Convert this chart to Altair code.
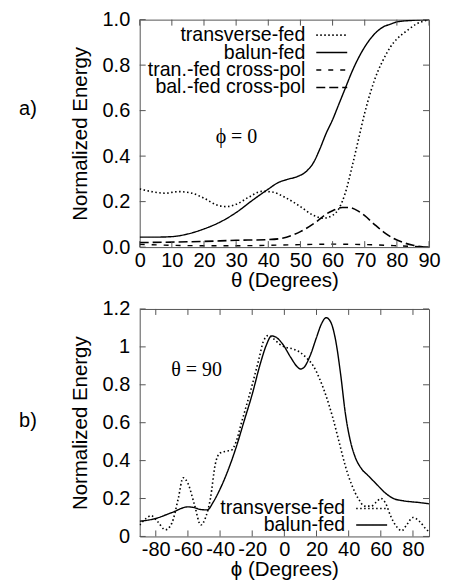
import altair as alt
import pandas as pd

# ---------------- data ----------------
# Panel a) phi = 0, x = theta (degrees)
a_tf_theta = [0, 4, 8, 12, 16, 20, 24, 27, 30, 34, 38, 41, 45, 50, 54, 57, 60, 62, 64, 66, 68, 70, 72, 74, 76, 78, 80, 83, 86, 90]
a_tf_val = [0.256, 0.243, 0.237, 0.244, 0.238, 0.215, 0.185, 0.178, 0.188, 0.22, 0.245, 0.243, 0.22, 0.178, 0.14, 0.127, 0.14, 0.17, 0.24, 0.35, 0.47, 0.59, 0.69, 0.77, 0.83, 0.88, 0.915, 0.95, 0.98, 1.0]

a_bf_theta = [0, 5, 10, 15, 20, 25, 30, 35, 40, 43, 46, 49, 52, 54, 56, 58, 60, 62, 64, 66, 68, 70, 72, 74, 76, 78, 80, 85, 90]
a_bf_val = [0.044, 0.044, 0.046, 0.058, 0.08, 0.11, 0.152, 0.205, 0.255, 0.283, 0.298, 0.31, 0.335, 0.37, 0.43, 0.50, 0.56, 0.63, 0.70, 0.77, 0.83, 0.88, 0.92, 0.95, 0.97, 0.98, 0.99, 0.997, 1.0]

a_tx_theta = [0, 10, 20, 30, 40, 50, 60, 70, 80, 90]
a_tx_val = [0.012, 0.008, 0.006, 0.006, 0.008, 0.011, 0.013, 0.011, 0.006, 0.0]

a_bx_theta = [0, 10, 20, 30, 40, 44, 48, 50, 55, 58, 60, 63, 65, 68, 70, 73, 76, 79, 82, 85, 88, 90]
a_bx_val = [0.02, 0.022, 0.025, 0.03, 0.033, 0.038, 0.055, 0.068, 0.112, 0.145, 0.16, 0.174, 0.174, 0.158, 0.138, 0.1, 0.065, 0.038, 0.02, 0.008, 0.001, 0.0]

# Panel b) theta = 90, x = phi (degrees)
b_tf_phi = [-90, -86, -83, -79, -74, -70, -66, -63, -60, -56, -52, -49, -46, -43, -40, -36, -33, -30, -27, -20, -16, -13, -10, -7, -3, 0, 5, 10, 14, 18, 22, 26, 30, 34, 38, 42, 46, 50, 54, 57, 60, 63, 66, 70, 73, 76, 80, 84, 88, 90]
b_tf_val = [0.06, 0.095, 0.11, 0.08, 0.035, 0.07, 0.2, 0.31, 0.28, 0.17, 0.06, 0.1, 0.2, 0.38, 0.44, 0.45, 0.455, 0.5, 0.59, 0.8, 0.93, 1.03, 1.06, 1.045, 1.015, 1.0, 0.99, 0.97, 0.94, 0.9, 0.83, 0.74, 0.63, 0.5, 0.37, 0.27, 0.2, 0.16, 0.16, 0.18, 0.2, 0.175, 0.11, 0.05, 0.03, 0.06, 0.1, 0.08, 0.04, 0.025]

b_bf_phi = [-90, -80, -70, -60, -56, -52, -48, -44, -40, -35, -30, -25, -20, -15, -11, -8, -5, -1, 4, 8, 10, 12, 16, 20, 23, 26, 29, 32, 35, 38, 41, 44, 48, 52, 58, 62, 68, 74, 80, 85, 90]
b_bf_val = [0.08, 0.095, 0.126, 0.156, 0.152, 0.142, 0.14, 0.185, 0.25, 0.35, 0.47, 0.61, 0.75, 0.91, 1.014, 1.058, 1.05, 1.014, 0.944, 0.895, 0.883, 0.89, 0.953, 1.05, 1.12, 1.154, 1.128, 1.03, 0.856, 0.646, 0.506, 0.42, 0.357, 0.322, 0.27, 0.235, 0.2, 0.188, 0.182, 0.178, 0.172]

# axes / ticks
a_xticks = [0, 10, 20, 30, 40, 50, 60, 70, 80, 90]
a_yticks = [0.0, 0.2, 0.4, 0.6, 0.8, 1.0]
b_xticks = [-80, -60, -40, -20, 0, 20, 40, 60, 80]
b_yticks = [0, 0.2, 0.4, 0.6, 0.8, 1.0, 1.2]

a_legend = ["transverse-fed", "balun-fed", "tran.-fed cross-pol", "bal.-fed cross-pol"]
b_legend = ["transverse-fed", "balun-fed"]

# ---------------- styling ----------------
W, H = 290, 228
FONT = "Liberation Sans"
SERIF = "Liberation Serif"
FRAME = "#555555"
TICK = 6

DOT = [1.5, 2.5]
SOLID = [1, 0]
SHORT = [5, 7]
LONG = [9, 4]

# plain hyphen for negative tick labels, as in the original
XLABEL = "datum.value < 0 ? '-' + abs(datum.value) : '' + datum.value"


def df_of(xs, ys):
    return pd.DataFrame({"x": xs, "y": ys})


def make_panel(xdomain, ydomain, xticks, yticks, yfmt, xtitle, series, legend_items,
               legend_right, legend_rows, note, note_xy, tag):
    xs = alt.Scale(domain=xdomain, nice=False, zero=False)
    ys = alt.Scale(domain=ydomain, nice=False, zero=False)
    xaxis = alt.Axis(values=xticks, ticks=False, domain=False, grid=False,
                     labelFont=FONT, labelFontSize=20, labelColor="black",
                     labelPadding=3, labelFlush=False, labelOverlap=False,
                     labelExpr=XLABEL, title=xtitle, titleFont=FONT, titleFontSize=20.5,
                     titleFontWeight="normal", titleColor="black", titlePadding=0)
    yaxis = alt.Axis(values=yticks, ticks=False, domain=False, grid=False,
                     labelFont=FONT, labelFontSize=20, labelColor="black",
                     labelPadding=10, labelFlush=False, labelOverlap=False,
                     format=yfmt, title="Normalized Energy", titleFont=FONT,
                     titleFontSize=20.5, titleFontWeight="normal", titleColor="black",
                     titlePadding=12)
    X = alt.X("x:Q", scale=xs, axis=xaxis)
    Y = alt.Y("y:Q", scale=ys, axis=yaxis)

    layers = []
    for xv, yv, dash, sw in series:
        layers.append(
            alt.Chart(df_of(xv, yv)).mark_line(
                color="black", strokeWidth=sw, strokeDash=dash,
                interpolate="monotone", clip=True
            ).encode(x=X, y=Y)
        )

    # inward ticks on all four sides
    xt = pd.DataFrame({"x": xticks})
    yt = pd.DataFrame({"y": yticks})
    tk = dict(color=FRAME, strokeWidth=1)
    layers.append(alt.Chart(xt).mark_rule(**tk).encode(x=X, y=alt.value(H), y2=alt.value(H - TICK)))
    layers.append(alt.Chart(xt).mark_rule(**tk).encode(x=X, y=alt.value(0), y2=alt.value(TICK)))
    layers.append(alt.Chart(yt).mark_rule(**tk).encode(y=Y, x=alt.value(0), x2=alt.value(TICK)))
    layers.append(alt.Chart(yt).mark_rule(**tk).encode(y=Y, x=alt.value(W - TICK), x2=alt.value(W)))

    one = pd.DataFrame({"k": [0]})
    # legend (label on the left, line sample on the right)
    for (label, dash, sw), ry in zip(legend_items, legend_rows):
        layers.append(alt.Chart(one).mark_text(
            font=FONT, fontSize=19.6, align="right", baseline="middle", color="black"
        ).encode(x=alt.value(legend_right), y=alt.value(ry), text=alt.value(label)))
        layers.append(alt.Chart(one).mark_rule(
            color="black", strokeWidth=sw, strokeDash=dash
        ).encode(x=alt.value(legend_right + 11), x2=alt.value(legend_right + 42), y=alt.value(ry)))

    # annotation inside the plot
    layers.append(alt.Chart(one).mark_text(
        font=SERIF, fontSize=20, align="center", baseline="middle", color="black"
    ).encode(x=alt.value(note_xy[0]), y=alt.value(note_xy[1]), text=alt.value(note)))

    # panel tag a) / b)
    layers.append(alt.Chart(one).mark_text(
        font=FONT, fontSize=20, align="center", baseline="middle", color="black"
    ).encode(x=alt.value(-112), y=alt.value(tag[1]), text=alt.value(tag[0])))

    return alt.layer(*layers).properties(width=W, height=H)


panel_a = make_panel(
    [0, 90], [0, 1], a_xticks, a_yticks, ".1f", "θ (Degrees)",
    [
        (a_tf_theta, a_tf_val, DOT, 1.6),
        (a_bf_theta, a_bf_val, SOLID, 1.4),
        (a_tx_theta, a_tx_val, SHORT, 1.4),
        (a_bx_theta, a_bx_val, LONG, 1.6),
    ],
    [(a_legend[0], DOT, 1.6), (a_legend[1], SOLID, 1.4),
     (a_legend[2], SHORT, 1.4), (a_legend[3], LONG, 1.6)],
    166, [15.5, 33, 50.5, 68],
    "ϕ = 0", (97, 118), ("a)", 89.5),
)

panel_b = make_panel(
    [-90, 90], [0, 1.2], b_xticks, b_yticks, ".2~f", "ϕ (Degrees)",
    [
        (b_tf_phi, b_tf_val, DOT, 1.6),
        (b_bf_phi, b_bf_val, SOLID, 1.4),
    ],
    [(b_legend[0], DOT, 1.6), (b_legend[1], SOLID, 1.4)],
    206, [200, 216.5],
    "θ = 90", (57, 61.5), ("b)", 112.5),
)

chart = alt.vconcat(panel_a, panel_b, spacing=7).configure(
    padding={"left": 10, "top": 0, "right": 0, "bottom": 0},
    background="white",
).configure_view(stroke=FRAME, strokeWidth=1)

chart.save("out.html", embed_options={"renderer": "svg", "actions": False})
